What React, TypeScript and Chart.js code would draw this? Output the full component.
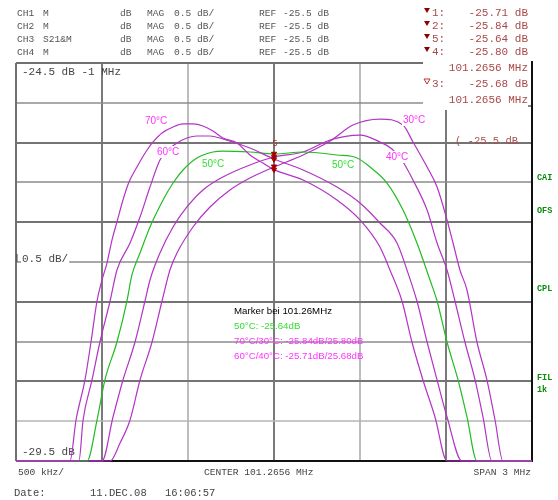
import React, { useEffect, useRef } from "react";
import { Chart, registerables } from "chart.js";

Chart.register(...registerables);

// ---------------- data (frequency offset from centre in MHz, level in dB) ----------------
const freq70 = [-1.5, -1.186, -1.151, -1.099, -1.064, -1.029, -1.0, -0.971, -0.942, -0.913, -0.878, -0.843, -0.797, -0.738, -0.703, -0.651, -0.587, -0.529, -0.471, -0.413, -0.355, -0.297, -0.215, -0.14, -0.064, 0, 0.169, 0.366, 0.5, 0.616, 0.674, 0.744, 0.802, 0.866, 0.936, 1.006, 1.5];
const level70 = [-29.5, -29.5, -28.985, -28.482, -28.005, -27.49, -27.226, -27.013, -26.724, -26.497, -26.221, -25.995, -25.807, -25.593, -25.492, -25.379, -25.304, -25.266, -25.266, -25.291, -25.354, -25.442, -25.505, -25.656, -25.757, -25.84, -25.97, -26.221, -26.472, -26.812, -27.1, -27.49, -28.005, -28.482, -28.947, -29.5, -29.5];

const freq60 = [-1.5, -1.134, -1.11, -1.058, -1.012, -0.953, -0.913, -0.837, -0.779, -0.721, -0.663, -0.616, -0.564, -0.506, -0.448, -0.372, -0.297, -0.14, 0, 0.169, 0.366, 0.5, 0.616, 0.715, 0.773, 0.831, 0.89, 0.948, 1.006, 1.093, 1.5];
const level60 = [-29.5, -29.5, -28.985, -28.482, -28.005, -27.49, -27.1, -26.761, -26.435, -26.058, -25.719, -25.593, -25.505, -25.442, -25.417, -25.417, -25.455, -25.568, -25.706, -25.844, -26.058, -26.259, -26.51, -26.761, -27.1, -27.49, -28.005, -28.482, -28.947, -29.5, -29.5];

const freq50 = [-1.5, -1.087, -1.029, -0.983, -0.913, -0.855, -0.826, -0.779, -0.721, -0.645, -0.587, -0.529, -0.448, -0.355, -0.297, -0.14, 0, 0.169, 0.366, 0.483, 0.558, 0.657, 0.75, 0.831, 0.907, 0.948, 1.006, 1.07, 1.122, 1.18, 1.5];
const level50 = [-29.5, -29.5, -28.985, -28.482, -28.005, -27.49, -27.163, -26.887, -26.56, -26.221, -26.008, -25.844, -25.693, -25.618, -25.606, -25.618, -25.643, -25.618, -25.656, -25.693, -25.807, -26.008, -26.347, -26.761, -27.226, -27.49, -28.005, -28.482, -28.947, -29.5, -29.5];

const freq40 = [-1.5, -1.0, -0.936, -0.878, -0.808, -0.75, -0.721, -0.663, -0.587, -0.506, -0.413, -0.297, -0.14, 0, 0.169, 0.326, 0.5, 0.616, 0.686, 0.75, 0.808, 0.89, 0.948, 1.006, 1.052, 1.11, 1.169, 1.215, 1.267, 1.5];
const level40 = [-29.5, -29.5, -28.947, -28.482, -28.005, -27.49, -27.226, -26.887, -26.56, -26.309, -26.095, -25.932, -25.781, -25.681, -25.618, -25.467, -25.405, -25.492, -25.58, -25.744, -25.97, -26.347, -26.761, -27.1, -27.49, -28.005, -28.482, -28.947, -29.5, -29.5];

const freq30 = [-1.5, -0.953, -0.895, -0.837, -0.779, -0.709, -0.651, -0.605, -0.564, -0.471, -0.372, -0.256, -0.14, 0, 0.169, 0.326, 0.459, 0.616, 0.75, 0.808, 0.89, 0.948, 1.006, 1.041, 1.081, 1.122, 1.18, 1.238, 1.285, 1.331, 1.5];
const level30 = [-29.5, -29.5, -29.274, -28.985, -28.482, -28.005, -27.49, -27.1, -26.887, -26.56, -26.309, -26.095, -25.945, -25.807, -25.656, -25.48, -25.279, -25.204, -25.279, -25.492, -25.807, -26.058, -26.472, -26.761, -27.1, -27.352, -28.005, -28.482, -28.985, -29.5, -29.5];

const markerIds = ["1", "2", "5", "4", "3"];
const markerLevels = [-25.71, -25.84, -25.64, -25.8, -25.68];
const markerFreqText = "101.2656 MHz";

const gridFreqs = [-1, -0.5, 0, 0.5, 1];
const gridLevels = [-25, -25.5, -26, -26.5, -27, -27.5, -28, -28.5, -29];

const headerChannels = ["CH1", "CH2", "CH3", "CH4"];
const headerParams = ["M", "M", "S21&M", "M"];
const headerFormat = ["dB", "MAG", "0.5 dB/", "REF", "-25.5 dB"];

const boxLines = [
  "Marker bei 101.26MHz",
  "50°C: -25.64dB",
  "70°C/30°C: -25.84dB/25.80dB",
  "60°C/40°C: -25.71dB/25.68dB",
];
const sideLabels = ["CAI", "OFS", "CPL", "FIL", "1k"];

// ---------------- drawing helpers ----------------
const MONO = '"Liberation Mono", "DejaVu Sans Mono", monospace';
const SANS = '"Liberation Sans", Arial, sans-serif';
const MAG_TRACE = "#b234c4";
const GREEN_TRACE = "#22bb22";
const MAG_TEXT = "#ff33ff";
const GREEN_TEXT = "#33dd33";
const MARK_RED = "#8e0000";
const MARK_TEXT = "#a84848";

function txt(ctx: CanvasRenderingContext2D, s: string, x: number, y: number, font: string, color: string, align: CanvasTextAlign = "left") {
  ctx.font = font;
  ctx.fillStyle = color;
  ctx.textAlign = align;
  ctx.textBaseline = "middle";
  ctx.fillText(s, x, y);
}

function bgTxt(ctx: CanvasRenderingContext2D, s: string, x: number, y: number, font: string, color: string) {
  ctx.font = font;
  const w = ctx.measureText(s).width;
  ctx.fillStyle = "#ffffff";
  ctx.fillRect(x - 1, y - 6, w + 2, 12);
  txt(ctx, s, x, y, font, color);
}

function seg(ctx: CanvasRenderingContext2D, x1: number, y1: number, x2: number, y2: number, color: string, w: number) {
  ctx.strokeStyle = color;
  ctx.lineWidth = w;
  ctx.beginPath();
  ctx.moveTo(x1, y1);
  ctx.lineTo(x2, y2);
  ctx.stroke();
}

function triangle(ctx: CanvasRenderingContext2D, x: number, y: number, filled: boolean) {
  ctx.beginPath();
  ctx.moveTo(x, y);
  ctx.lineTo(x + 6, y);
  ctx.lineTo(x + 3, y + 5);
  ctx.closePath();
  if (filled) {
    ctx.fillStyle = MARK_RED;
    ctx.fill();
  } else {
    ctx.strokeStyle = "#c03030";
    ctx.lineWidth = 1;
    ctx.stroke();
  }
}

const decor = {
  id: "decor",
  beforeDraw(chart: any) {
    const { ctx, width, height } = chart;
    ctx.save();
    ctx.fillStyle = "#ffffff";
    ctx.fillRect(0, 0, width, height);
    ctx.restore();
  },
  beforeDatasetsDraw(chart: any) {
    const { ctx, chartArea: a, scales } = chart;
    const xs = scales.x;
    const ys = scales.y;
    ctx.save();
    // vertical grid
    gridFreqs.forEach((f, i) => {
      const px = Math.round(xs.getPixelForValue(f));
      seg(ctx, px, a.top, px, a.bottom, i % 2 === 0 ? "#7a7a7a" : "#bdbdbd", 2);
    });
    // horizontal grid
    gridLevels.forEach((v, i) => {
      const py = Math.round(ys.getPixelForValue(v));
      let c = "#8c8c8c";
      let w = 1.5;
      if (i % 2 === 1) { c = "#747474"; w = 2; }
      if (i === gridLevels.length - 1) { c = "#b4b4b4"; w = 1.5; }
      seg(ctx, a.left, py, a.right, py, c, w);
    });
    // frame
    seg(ctx, a.left, a.top, a.left, a.bottom, "#707070", 2);
    seg(ctx, a.left, a.top, a.right, a.top, "#707070", 2);
    seg(ctx, a.left, a.bottom, a.right, a.bottom, "#111111", 2);

    // in-plot annotations
    txt(ctx, "-24.5 dB -1 MHz", a.left + 6, a.top + 9, `11px ${MONO}`, "#444");
    const y05 = Math.round(ys.getPixelForValue(-27));
    ctx.font = `11px ${MONO}`;
    const w05 = ctx.measureText("0.5 dB/").width;
    ctx.fillStyle = "#fff";
    ctx.fillRect(a.left + 5, y05 - 8, w05 + 2, 10);
    txt(ctx, "0.5 dB/", a.left + 6, y05 - 3, `11px ${MONO}`, "#444");
    seg(ctx, a.left + 1, y05 - 8, a.left + 1, y05, "#444", 1);
    txt(ctx, "-29.5 dB", a.left + 6, a.bottom - 9, `11px ${MONO}`, "#444");

    // reference level marker text
    const yRef = ys.getPixelForValue(-25.5);
    txt(ctx, "( -25.5 dB", 455, yRef - 1, `10.5px ${MONO}`, "#a85050");

    // marker readout box (covers the top-right corner of the grid)
    ctx.fillStyle = "#ffffff";
    ctx.fillRect(423, 55, 108, 55);
    seg(ctx, a.right, a.top - 2, a.right, a.bottom + 1, "#111111", 2);
    seg(ctx, a.right - 4, 106, a.right, 106, "#111111", 1);
    ctx.restore();
  },
  afterDatasetsDraw(chart: any) {
    const { ctx, scales } = chart;
    const xs = scales.x;
    const ys = scales.y;
    ctx.save();

    // trace labels (white background hides the trace beneath)
    const lf = `10px ${SANS}`;
    bgTxt(ctx, "70°C", 145, 121, lf, MAG_TEXT);
    bgTxt(ctx, "60°C", 157, 152, lf, MAG_TEXT);
    bgTxt(ctx, "50°C", 202, 164, lf, GREEN_TEXT);
    bgTxt(ctx, "30°C", 403, 120, lf, MAG_TEXT);
    bgTxt(ctx, "40°C", 386, 157, lf, MAG_TEXT);
    bgTxt(ctx, "50°C", 332, 165, lf, GREEN_TEXT);

    // marker number above the marker stack
    const cx = xs.getPixelForValue(0);
    const topMarker = ys.getPixelForValue(Math.max(...markerLevels));
    txt(ctx, "5", cx + 1, topMarker - 10, `9px ${MONO}`, "#a03030", "center");

    // text box
    const bf = `9.7px ${SANS}`;
    txt(ctx, boxLines[0], 234, 311, bf, "#000");
    txt(ctx, boxLines[1], 234, 326, bf, GREEN_TEXT);
    txt(ctx, boxLines[2], 234, 341, bf, MAG_TEXT);
    txt(ctx, boxLines[3], 234, 356, bf, MAG_TEXT);

    // header lines
    const hf = `9.6px ${MONO}`;
    headerChannels.forEach((ch, i) => {
      const y = 13 + i * 13;
      txt(ctx, ch, 17, y, hf, "#555");
      txt(ctx, headerParams[i], 43, y, hf, "#555");
      txt(ctx, headerFormat[0], 120, y, hf, "#555");
      txt(ctx, headerFormat[1], 147, y, hf, "#555");
      txt(ctx, headerFormat[2], 174, y, hf, "#555");
      txt(ctx, headerFormat[3], 259, y, hf, "#555");
      txt(ctx, headerFormat[4], 283, y, hf, "#555");
    });

    // marker readout
    const mf = `11px ${MONO}`;
    for (let i = 0; i < 4; i++) {
      const y = 13 + i * 13;
      triangle(ctx, 424, y - 5, true);
      txt(ctx, markerIds[i] + ":", 432, y, mf, MARK_TEXT);
      txt(ctx, markerLevels[i].toFixed(2) + " dB", 528, y, mf, MARK_TEXT, "right");
    }
    txt(ctx, markerFreqText, 528, 68, mf, MARK_TEXT, "right");
    triangle(ctx, 424, 79, false);
    txt(ctx, markerIds[4] + ":", 432, 84, mf, MARK_TEXT);
    txt(ctx, markerLevels[4].toFixed(2) + " dB", 528, 84, mf, MARK_TEXT, "right");
    txt(ctx, markerFreqText, 528, 100, mf, MARK_TEXT, "right");

    // right side status labels
    const sf = `bold 8.5px ${MONO}`;
    const sideY = [178, 211, 289, 378, 390];
    sideLabels.forEach((s, i) => txt(ctx, s, 537, sideY[i], sf, "#0a8a0a"));

    // bottom axis annotations
    const bfnt = `9.6px ${MONO}`;
    txt(ctx, "500 kHz/", 18, 472, bfnt, "#444");
    txt(ctx, "CENTER 101.2656 MHz", 204, 472, bfnt, "#444");
    txt(ctx, "SPAN 3 MHz", 531, 472, bfnt, "#444", "right");
    const df = `10.5px ${MONO}`;
    txt(ctx, "Date:", 14, 493, df, "#444");
    txt(ctx, "11.DEC.08", 90, 493, df, "#444");
    txt(ctx, "16:06:57", 165, 493, df, "#444");
    ctx.restore();
  },
};

function pts(f: number[], l: number[]) {
  return f.map((v, i) => ({ x: v, y: l[i] }));
}

export default function App() {
  const ref = useRef<HTMLCanvasElement>(null);
  useEffect(() => {
    if (!ref.current) return;
    const traceBase = {
      borderWidth: 1.2,
      pointRadius: 0,
      fill: false,
      cubicInterpolationMode: "monotone" as const,
      clip: 3,
    };
    const chart = new Chart(ref.current, {
      type: "line",
      data: {
        datasets: [
          {
            type: "scatter" as any,
            label: "Marker",
            data: markerLevels.map((v) => ({ x: 0, y: v })),
            pointStyle: "triangle",
            rotation: 180,
            pointRadius: 3,
            backgroundColor: MARK_RED,
            borderColor: "#b00000",
            borderWidth: 1,
            showLine: false,
            order: 0,
          } as any,
          { ...traceBase, label: "70°C", data: pts(freq70, level70), borderColor: MAG_TRACE, order: 1 },
          { ...traceBase, label: "60°C", data: pts(freq60, level60), borderColor: MAG_TRACE, order: 2 },
          { ...traceBase, label: "50°C", data: pts(freq50, level50), borderColor: GREEN_TRACE, order: 3 },
          { ...traceBase, label: "40°C", data: pts(freq40, level40), borderColor: MAG_TRACE, order: 4 },
          { ...traceBase, label: "30°C", data: pts(freq30, level30), borderColor: MAG_TRACE, order: 5 },
        ],
      },
      options: {
        responsive: false,
        maintainAspectRatio: false,
        animation: false,
        devicePixelRatio: 1,
        layout: { padding: { left: 16, right: 26, top: 63, bottom: 39 } },
        plugins: { legend: { display: false }, tooltip: { enabled: false }, title: { display: false } },
        scales: {
          x: { type: "linear", min: -1.5, max: 1.5, display: false },
          y: { type: "linear", min: -29.5, max: -24.5, display: false },
        },
        events: [],
      },
      plugins: [decor],
    });
    return () => chart.destroy();
  }, []);
  return (
    <div style={{ position: "fixed", left: 0, top: 0, width: 558, height: 500, background: "#fff" }}>
      <canvas ref={ref} width={558} height={500} style={{ display: "block", width: 558, height: 500 }} />
    </div>
  );
}
